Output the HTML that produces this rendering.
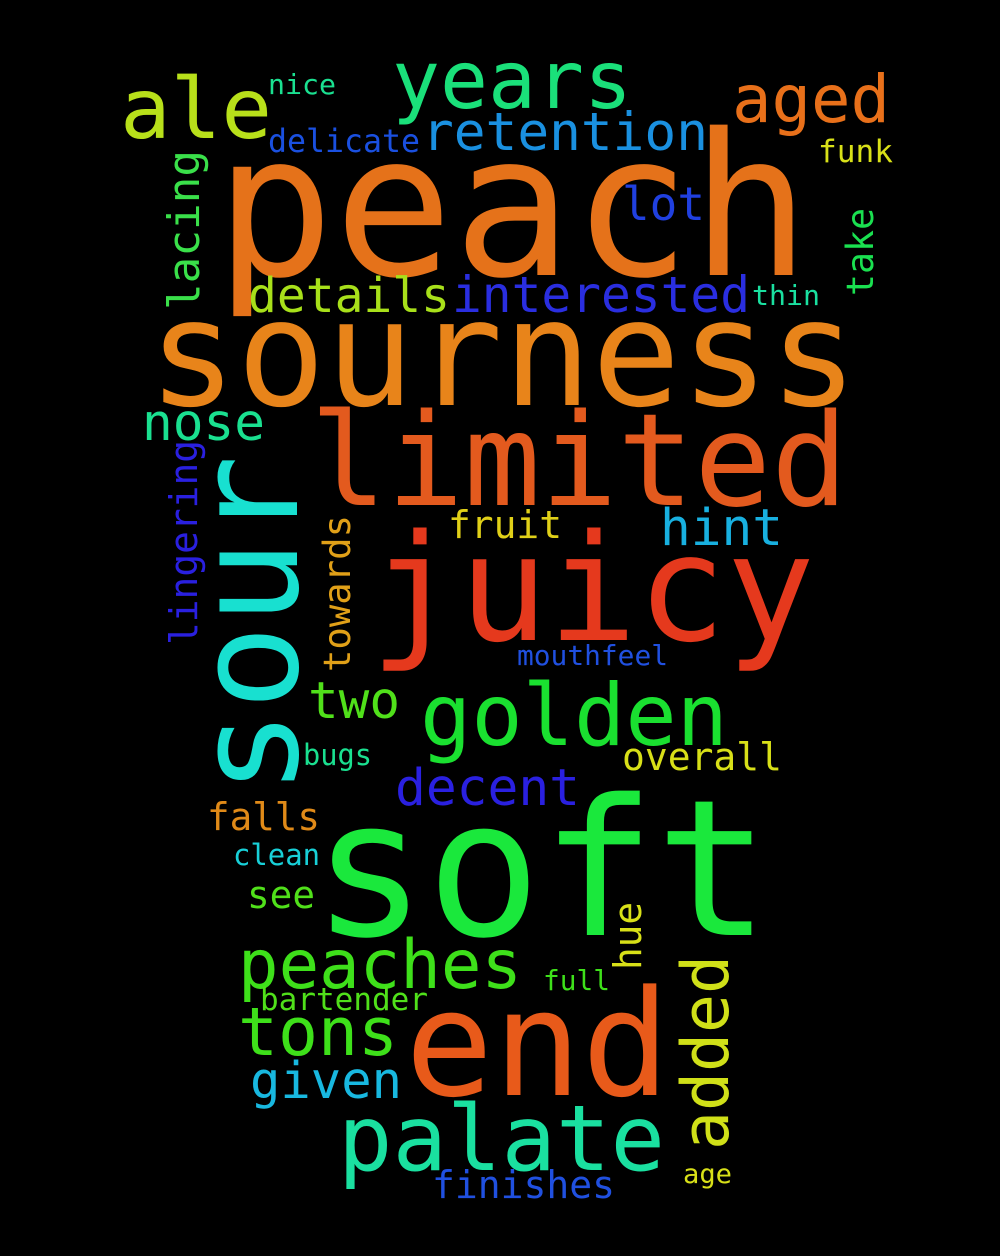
<!DOCTYPE html>
<html><head><meta charset="utf-8"><style>
html,body{margin:0;padding:0;background:#000;}
svg{display:block;}
text{font-family:"DejaVu Sans Mono","Liberation Mono",monospace;}
</style></head><body>
<svg id="cloud" width="1000" height="1256" viewBox="0 0 1000 1256" xmlns="http://www.w3.org/2000/svg">
<rect width="1000" height="1256" fill="#000"/>
</svg>
<script>
const words = ["peach","sourness","limited","juicy","soft","end","sour","golden","palate","peaches","tons","added","given","years","ale","aged","retention","delicate","nice","funk","lot","lacing","take","details","interested","thin","nose","lingering","towards","fruit","hint","mouthfeel","two","overall","decent","bugs","falls","clean","see","hue","full","bartender","finishes","age"];
const sizes = [198,148,128,148,190,147,142,86,91,68,67,65,51,80,84,66,53,32,28,31,46,44,37,48,50,28,51,38,37,38,51,28,51,38,51,29,38,29,38,38,28,31,38,27];
const colors = ["#e5721a","#e8841a","#e35a1e","#e5391d","#1ae83c","#e85a1a","#18e0d0","#1ae030","#1ae0a0","#3ee01a","#3ee01a","#d0e018","#18b8e0","#1ae07a","#b8e01a","#e8701a","#1a90e0","#1a50e0","#1ae090","#d8e018","#2040e0","#3ae04a","#1ae050","#a8e01a","#2a2ee0","#1ae0a0","#1ae090","#2a20e0","#e0a018","#e0d018","#18b0e0","#2050e0","#50e01a","#d8e018","#2a20e0","#1ae090","#e08a18","#18d0d8","#50e01a","#d8e018","#3ee01a","#50e01a","#2050e0","#d8e018"];
const xs = [215,148,310,370,312,405,297,420,338,238,238,728,250,392,120,732,422,268,268,818,622,199,873,248,452,752,142,197,350,448,660,517,308,622,395,303,207,233,247,641,543,260,432,683];
const ys = [275,405,505,640,935,1095,795,745,1170,988,1055,1150,1098,108,138,122,150,152,94,162,220,310,296,312,312,305,440,645,672,538,545,665,718,770,805,765,830,865,908,970,990,1010,1198,1183];
const extents = [595,710,538,445,458,265,340,308,327,284,160,195,152,240,152,158,286,152,68,75,83,160,88,202,298,68,123,205,157,114,123,151,92,160,185,69,113,87,68,68,67,168,183,49];
const vertical = [0,0,0,0,0,0,1,0,0,0,0,1,0,0,0,0,0,0,0,0,0,1,1,0,0,0,0,1,1,0,0,0,0,0,0,0,0,0,0,1,0,0,0,0];
const svg = document.getElementById('cloud');
const NS = 'http://www.w3.org/2000/svg';
for (let i = 0; i < words.length; i++) {
  const t = document.createElementNS(NS, 'text');
  
  
  t.setAttribute('font-size', sizes[i]);
  t.setAttribute('fill', colors[i]);
  t.setAttribute('textLength', extents[i]);
  t.setAttribute('lengthAdjust', 'spacingAndGlyphs');
  if (vertical[i]) {
    t.setAttribute('transform', 'translate(' + xs[i] + ',' + ys[i] + ') rotate(-90)');
    t.setAttribute('x', 0); t.setAttribute('y', 0);
  } else {
    t.setAttribute('x', xs[i]); t.setAttribute('y', ys[i]);
  }
  t.textContent = words[i];
  svg.appendChild(t);
}
</script>
</body></html>
